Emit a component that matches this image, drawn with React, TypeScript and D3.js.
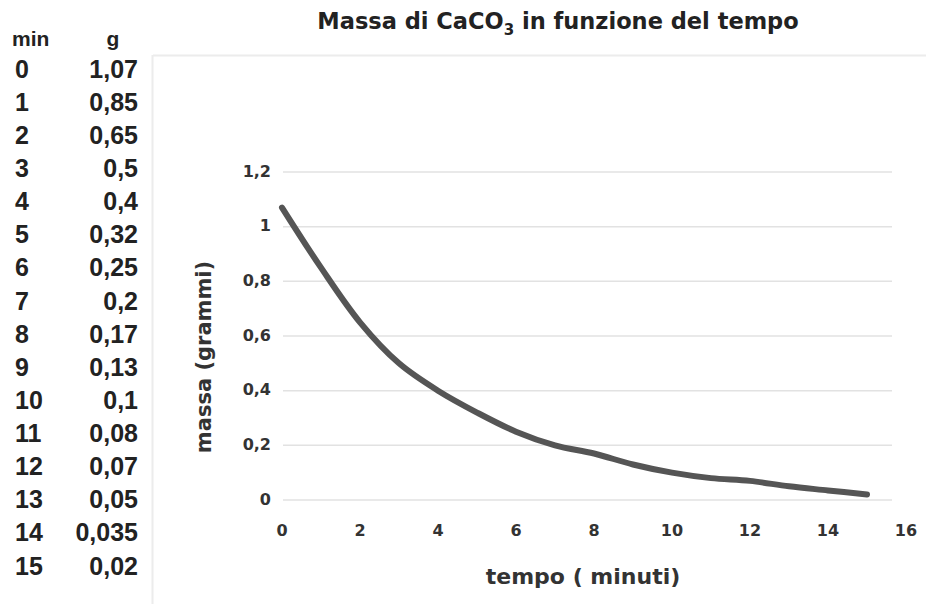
import React from 'react';
import * as d3 from 'd3';

const minutes = [0, 1, 2, 3, 4, 5, 6, 7, 8, 9, 10, 11, 12, 13, 14, 15];
const grams = [1.07, 0.85, 0.65, 0.5, 0.4, 0.32, 0.25, 0.2, 0.17, 0.13, 0.1, 0.08, 0.07, 0.05, 0.035, 0.02];
const gramLabels = ['1,07', '0,85', '0,65', '0,5', '0,4', '0,32', '0,25', '0,2', '0,17', '0,13', '0,1', '0,08', '0,07', '0,05', '0,035', '0,02'];
const xTicks = [0, 2, 4, 6, 8, 10, 12, 14, 16];
const yTicks = [0, 0.2, 0.4, 0.6, 0.8, 1, 1.2];

const W = 926;
const H = 604;
const dejavu = '"DejaVu Sans", sans-serif';
const arial = '"Liberation Sans", Arial, sans-serif';

const fmt = (v: number) => String(v).replace('.', ',');

export default function App() {
  const x = d3.scaleLinear().domain([0, 16]).range([282, 906]);
  const y = d3.scaleLinear().domain([0, 1.2]).range([500, 172]);
  const row = d3.scaleLinear().domain([0, 15]).range([71, 568]);

  const line = d3
    .line<number>()
    .x((_, i) => x(minutes[i]))
    .y((d) => y(d))
    .curve(d3.curveCatmullRom.alpha(0.5));

  return (
    <div style={{ position: 'absolute', left: 0, top: 0 }}>
      <svg width={W} height={H} style={{ display: 'block', background: '#fff' }}>
        {/* faint chart frame */}
        <line x1={153} x2={W} y1={55.5} y2={55.5} stroke="#ececec" strokeWidth={2} />
        <line x1={152.5} x2={152.5} y1={55} y2={H} stroke="#ececec" strokeWidth={2} />

        {/* table */}
        <g fontFamily={arial} fontWeight="bold" fill="#222">
          <text x={12} y={40} fontSize={21} dominantBaseline="middle">min</text>
          <text x={113} y={40} fontSize={21} dominantBaseline="middle" textAnchor="middle">g</text>
          {minutes.map((m, i) => (
            <g key={m}>
              <text x={15} y={row(i)} fontSize={25} dominantBaseline="middle">{m}</text>
              <text x={138} y={row(i)} fontSize={25} dominantBaseline="middle" textAnchor="end">
                {gramLabels[i]}
              </text>
            </g>
          ))}
        </g>

        {/* title */}
        <text x={558} y={29} textAnchor="middle" fontFamily={dejavu} fontWeight="bold" fontSize={22.5} fill="#222">
          Massa di CaCO<tspan fontSize={15} dy={6}>3</tspan>
          <tspan dy={-6}> in funzione del tempo</tspan>
        </text>

        {/* grid */}
        {yTicks.map((t) => (
          <line key={t} x1={283} x2={892} y1={y(t)} y2={y(t)} stroke="#e2e2e2" strokeWidth={1.5} />
        ))}

        {/* tick labels */}
        <g fontFamily={dejavu} fontWeight="bold" fontSize={16} fill="#333">
          {yTicks.map((t) => (
            <text key={t} x={271} y={y(t)} textAnchor="end" dominantBaseline="middle">
              {fmt(t)}
            </text>
          ))}
          {xTicks.map((t) => (
            <text key={t} x={x(t)} y={531} textAnchor="middle" dominantBaseline="middle">
              {t}
            </text>
          ))}
        </g>

        {/* axis titles */}
        <text
          transform={`translate(205,357) rotate(-90)`}
          textAnchor="middle"
          dominantBaseline="middle"
          fontFamily={dejavu}
          fontWeight="bold"
          fontSize={21}
          fill="#333"
        >
          massa (grammi)
        </text>
        <text x={583} y={578} textAnchor="middle" dominantBaseline="middle" fontFamily={dejavu} fontWeight="bold" fontSize={22} fill="#333">
          tempo ( minuti)
        </text>

        <path d={line(grams) ?? ''} fill="none" stroke="#555" strokeWidth={6} strokeLinecap="round" />
      </svg>
    </div>
  );
}
